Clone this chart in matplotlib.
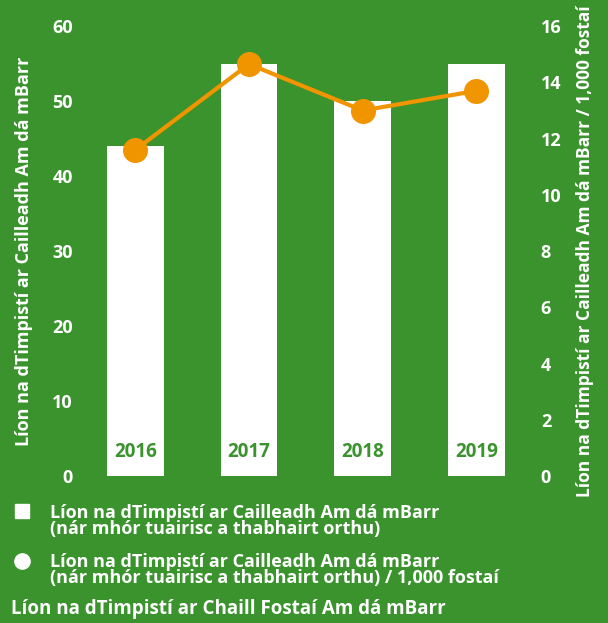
import matplotlib.pyplot as plt
from matplotlib.lines import Line2D

years = ["2016", "2017", "2018", "2019"]
accidents = [44, 55, 50, 55]
per_1000 = [11.6, 14.65, 13.0, 13.7]

green = "#3a932d"
orange = "#f09500"
plt.rcParams['font.family'] = ['Open Sans', 'DejaVu Sans']
plt.rcParams['font.weight'] = 'bold'

fig = plt.figure(figsize=(6.08, 6.23), dpi=100, facecolor=green)
ax = fig.add_axes([0.129, 0.236, 0.748, 0.722])
ax.set_facecolor(green)
x = range(len(years))
ax.bar(x, accidents, width=0.5, color="white", zorder=1)
for i, y in enumerate(years):
    ax.text(i, 3.2, y, ha="center", va="center", color=green, fontsize=13.5, fontweight="bold")
ax.set_xlim(-0.5, 3.5)
ax.set_ylim(0, 60)
ax.set_yticks(range(0, 61, 10))
ax.set_xticks([])
ax.tick_params(axis="y", length=0, colors="white", labelsize=13, pad=4)
for s in ax.spines.values():
    s.set_visible(False)
ax.set_ylabel("Líon na dTimpistí ar Cailleadh Am dá mBarr", color="white", fontsize=13, fontweight="bold")
ax.yaxis.set_label_coords(-0.1, 0.5)

ax2 = ax.twinx()
ax2.plot(x, per_1000, color=orange, lw=3, marker="o", markersize=17, zorder=3)
ax2.set_ylim(0, 16)
ax2.set_yticks(range(0, 17, 2))
ax2.tick_params(axis="y", length=0, colors="white", labelsize=13, pad=5.5)
for s in ax2.spines.values():
    s.set_visible(False)
ax2.set_ylabel("Líon na dTimpistí ar Cailleadh Am dá mBarr / 1,000 fostaí", color="white", fontsize=12.5, fontweight="bold")
ax2.yaxis.set_label_coords(1.093, 0.5)

# legend
fig.add_artist(Line2D([0.036], [1 - 511 / 623], marker="s", markersize=10, color="white", transform=fig.transFigure))
fig.add_artist(Line2D([0.036], [1 - 561 / 623], marker="o", markersize=11, color="white", transform=fig.transFigure))
fig.text(0.082, 1 - 521 / 623, "Líon na dTimpistí ar Cailleadh Am dá mBarr\n(nár mhór tuairisc a thabhairt orthu)",
         color="white", fontsize=13, fontweight="bold", va="center", linespacing=0.82)
fig.text(0.082, 1 - 570 / 623, "Líon na dTimpistí ar Cailleadh Am dá mBarr\n(nár mhór tuairisc a thabhairt orthu) / 1,000 fostaí",
         color="white", fontsize=13, fontweight="bold", va="center", linespacing=0.82)
fig.text(0.018, 1 - 609 / 623, "Líon na dTimpistí ar Chaill Fostaí Am dá mBarr",
         color="white", fontsize=13.5, fontweight="bold", va="center")

fig.savefig("out.png", dpi=100, facecolor=green)
